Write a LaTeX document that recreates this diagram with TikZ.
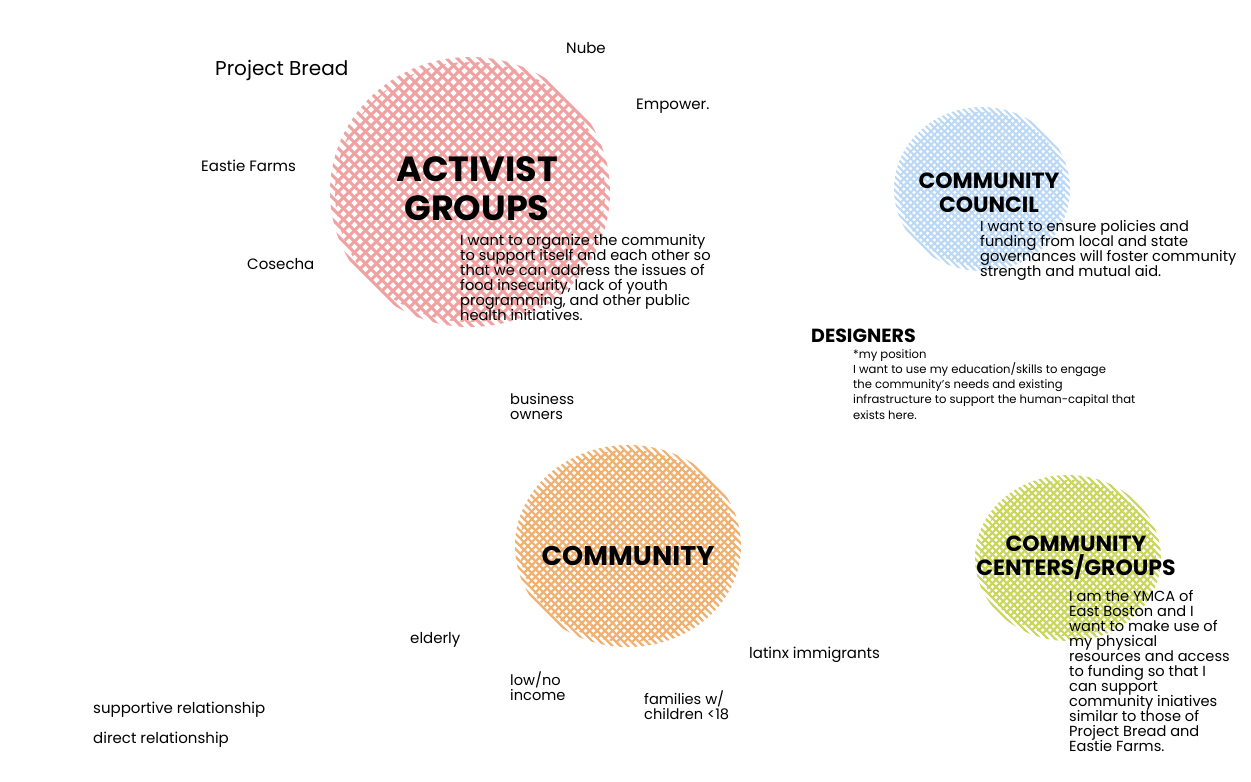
\documentclass[tikz,border=0pt]{standalone}
\usepackage{fontspec}
\setmainfont{Poppins}
\usepackage{tikz}
\usetikzlibrary{positioning}
\setlength{\lineskiplimit}{-20pt}
\definecolor{actpink}{RGB}{240,162,162}
\definecolor{councilblue}{RGB}{186,216,245}
\definecolor{commorange}{RGB}{240,176,112}
\definecolor{centergreen}{RGB}{202,213,92}

\begin{document}
\begin{tikzpicture}[x=1pt,y=-1pt,
    lbl/.style={anchor=west,inner sep=0pt,font=\fontsize{15}{15}\selectfont},
    blurb/.style={anchor=north west,inner sep=0pt,align=left,font=\fontsize{14.6}{15}\selectfont},
    grouphead/.style 2 args={inner sep=0pt,align=center,font=\bfseries\fontsize{#1}{#2}\selectfont}]
    \useasboundingbox (0,0) rectangle (1251,782);
    % cross-hatched discs, the two line families clipped a little differently
    \foreach \cx/\cy/\rx/\ry/\st/\lw/\col in {470/192/137/132/11/3.0/actpink,982/189/85/79/6.8/2.0/councilblue,
                                            628/546/110/98/7.7/2.2/commorange,1068/558/90/80/7.2/2.1/centergreen}{
       \begin{scope}
          \clip (\cx,\cy) ellipse ({(\rx+3)*1pt} and {(\ry+3)*1pt});
          \foreach \k in {-44,...,44}
             \draw[line width=\lw pt,\col] ({\cx+\k*\st-150},{\cy-150}) -- ++(300,300);
       \end{scope}
       \begin{scope}
          \clip (\cx,\cy) ellipse ({(\rx-2)*1pt} and {(\ry-2)*1pt});
          \foreach \k in {-44,...,44}
             \draw[line width=\lw pt,\col] ({\cx+\k*\st-150},{\cy+150}) -- ++(300,-300);
       \end{scope}
    }
    \node[lbl] (nube) at (566,48) {Nube};
    \node[lbl,font=\fontsize{20}{20}\selectfont] (bread) at (215,70) {Project Bread};
    \node[lbl] (empower) at (636,106) {Empower.};
    \node[lbl] (eastie) at (201,166) {Eastie Farms};
    \node[lbl] (cosecha) at (247,264) {Cosecha};
    \node[grouphead={35}{39}] (act) at (477,189) {ACTIVIST\\GROUPS};
    \node[blurb] (actnote) at (460,234)
       {I want to organize the community\\to support itself and each other so\\that we can address the issues of\\food insecurity, lack of youth\\programming, and other public\\health initiatives.};
    \node[grouphead={22}{24}] (council) at (989,193) {COMMUNITY\\COUNCIL};
    \node[blurb] (councilnote) at (980,220)
       {I want to ensure policies and\\funding from local and state\\governances will foster community\\strength and mutual aid.};
    \node[lbl,font=\bfseries\fontsize{19}{19}\selectfont] (design) at (811,336) {DESIGNERS};
    \node[blurb,font=\fontsize{11.6}{15.3}\selectfont] (designnote) at (853,349)
       {*my position\\I want to use my education/skills to engage\\the community's needs and existing\\infrastructure to support the human-capital that\\exists here.};
    \node[blurb] (biz) at (510,393) {business\\owners};
    \node[grouphead={27}{27}] (comm) at (628,556) {COMMUNITY};
    \node[grouphead={22}{24}] (centers) at (1076,558) {COMMUNITY\\CENTERS/GROUPS};
    \node[blurb] (centersnote) at (1069,590)
       {I am the YMCA of\\East Boston and I\\want to make use of\\my physical\\resources and access\\to funding so that I\\can support\\community iniatives\\similar to those of\\Project Bread and\\Eastie Farms.};
    \node[lbl] (elderly) at (410,640) {elderly};
    \node[lbl] (latinx) at (749,655) {latinx immigrants};
    \node[blurb] (lowinc) at (510,672) {low/no\\income};
    \node[blurb] (families) at (644,691) {families w/\\children <18};
    \node[lbl] (support) at (93,710) {supportive relationship};
    \node[lbl] (direct) at (93,740) {direct relationship};
\end{tikzpicture}
\end{document}
